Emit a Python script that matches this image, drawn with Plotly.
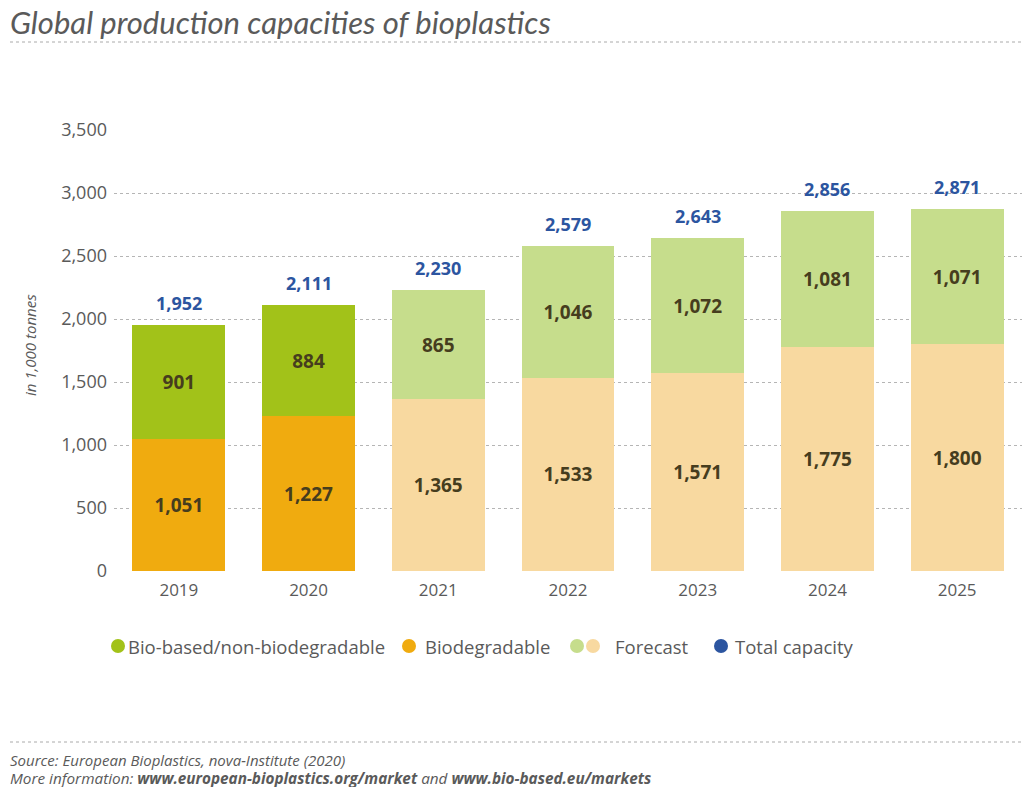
import plotly.graph_objects as go

# Global production capacities of bioplastics (in 1,000 tonnes)
years = ["2019", "2020", "2021", "2022", "2023", "2024", "2025"]
bio_based = [901, 884, 865, 1046, 1072, 1081, 1071]
biodegradable = [1051, 1227, 1365, 1533, 1571, 1775, 1800]
totals = [1952, 2111, 2230, 2579, 2643, 2856, 2871]
is_forecast = [False, False, True, True, True, True, True]
y_ticks = [0, 500, 1000, 1500, 2000, 2500, 3000, 3500]

GREEN = "#a2c219"
ORANGE = "#f0ab0f"
GREEN_FC = "#c6dd8c"
ORANGE_FC = "#f8d9a0"
BLUE = "#2c55a0"
GREY = "#5a5a5a"
LABEL = "#463d1e"
FONT = "Open Sans"

W, H = 1022, 787
L, R, T, B = 114, 1022, 130, 571  # plot area in pixels


def px(x):
    return (x - L) / (R - L)


def py(y):
    return (B - y) / (B - T)


fig = go.Figure()

fig.add_trace(go.Bar(
    x=years, y=biodegradable, name="Biodegradable",
    marker=dict(color=[ORANGE_FC if f else ORANGE for f in is_forecast], line_width=0),
    text=[f"{v:,}" for v in biodegradable], textposition="inside",
    insidetextanchor="middle",
    textfont=dict(family=FONT, size=19, color=LABEL, weight="bold"),
    showlegend=False, hoverinfo="skip",
))
fig.add_trace(go.Bar(
    x=years, y=bio_based, name="Bio-based/non-biodegradable",
    marker=dict(color=[GREEN_FC if f else GREEN for f in is_forecast], line_width=0),
    text=[f"{v:,}" for v in bio_based], textposition="inside",
    insidetextanchor="middle",
    textfont=dict(family=FONT, size=19, color=LABEL, weight="bold"),
    showlegend=False, hoverinfo="skip",
))

annotations = []
# total capacity above each stack (category index on the x axis)
for i, tot in enumerate(totals):
    annotations.append(dict(
        x=i, y=tot, xref="x", yref="y", text=f"{tot:,}", showarrow=False,
        yanchor="bottom", yshift=8,
        font=dict(family=FONT, size=18, color=BLUE, weight="bold"),
    ))

# Title, axis caption and footer
annotations.append(dict(
    x=px(8), y=py(22), xref="paper", yref="paper", xanchor="left", yanchor="middle",
    text="<i>Global production capacities of bioplastics</i>", showarrow=False,
    font=dict(family="Lato", size=31, color=GREY),
))
annotations.append(dict(
    x=px(18), y=py(345), xref="paper", yref="paper", textangle=-90,
    text="<i>in 1,000 tonnes</i>", showarrow=False,
    font=dict(family=FONT, size=15, color=GREY),
))
annotations.append(dict(
    x=px(8), y=py(760), xref="paper", yref="paper", xanchor="left", yanchor="middle",
    text="<i>Source: European Bioplastics, nova-Institute (2020)</i>", showarrow=False,
    font=dict(family=FONT, size=15, color=GREY),
))
annotations.append(dict(
    x=px(8), y=py(778), xref="paper", yref="paper", xanchor="left", yanchor="middle",
    text="<i>More information: <b>www.european-bioplastics.org/market</b> and "
         "<b>www.bio-based.eu/markets</b></i>", showarrow=False,
    font=dict(family=FONT, size=15.3, color=GREY),
))

shapes = []
for yline in (42, 742):
    shapes.append(dict(
        type="line", xref="paper", yref="paper", x0=px(10), x1=px(1022),
        y0=py(yline), y1=py(yline), line=dict(color="#aaaaaa", width=1, dash="dot"),
    ))

# Legend drawn as dots and labels: (dot colours, first dot x, label x, label)
legend_items = [
    ([GREEN], 118, 126, "Bio-based/non-biodegradable"),
    ([ORANGE], 409, 423, "Biodegradable"),
    ([GREEN_FC, ORANGE_FC], 577, 613, "Forecast"),
    ([BLUE], 721, 733, "Total capacity"),
]
ly = 646
r = 7
for colors, x0, tx, label in legend_items:
    for k, c in enumerate(colors):
        cx = x0 + 16 * k
        shapes.append(dict(
            type="circle", xref="paper", yref="paper",
            x0=px(cx - r), x1=px(cx + r), y0=py(ly + r), y1=py(ly - r),
            fillcolor=c, line_width=0,
        ))
    annotations.append(dict(
        x=px(tx), y=py(ly), xref="paper", yref="paper",
        xanchor="left", yanchor="middle", text=label, showarrow=False,
        font=dict(family=FONT, size=18.5, color=GREY),
    ))

fig.update_layout(
    width=W, height=H,
    margin=dict(l=L, r=W - R, t=T, b=H - B),
    barmode="stack", bargap=0.285,
    paper_bgcolor="white", plot_bgcolor="white",
    font=dict(family=FONT, color=GREY),
    xaxis=dict(
        type="category", categoryorder="array", categoryarray=years,
        range=[-0.5, len(years) - 0.5],
        showgrid=False, showline=False, ticks="",
        tickfont=dict(family=FONT, size=17, color=GREY), ticklabelstandoff=7,
    ),
    yaxis=dict(
        range=[0, 3500], tickvals=y_ticks, tickformat=",",
        showgrid=True, gridcolor="#b5b5b5", griddash="dot", gridwidth=1,
        zeroline=False, showline=False, ticks="",
        tickfont=dict(family=FONT, size=18, color=GREY), ticklabelstandoff=6,
    ),
    annotations=annotations, shapes=shapes,
    showlegend=False,
)

fig.write_html("out.html")
